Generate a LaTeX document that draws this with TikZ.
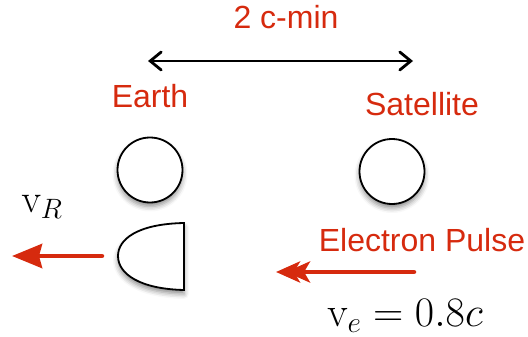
\documentclass[tikz,border=0pt]{standalone}
\usepackage{fix-cm}
\usepackage[no-math]{fontspec}
\setmainfont{Liberation Sans}
\usetikzlibrary{arrows.meta,shadows.blur}
\definecolor{ared}{HTML}{D62A0E}
\tikzset{
  lbl/.style={text=ared,font=\fontsize{32}{36}\selectfont,inner sep=0pt,anchor=base},
  mathlbl/.style={font=\fontsize{40}{44}\selectfont,inner sep=0pt,anchor=base},
  body/.style={draw=black,line width=1.8pt,fill=white,
    blur shadow={shadow xshift=0pt,shadow yshift=-4pt,shadow blur radius=5pt,shadow opacity=45}},
  redarrow/.style={draw=ared,line width=4.5pt,line cap=round},
}
\begin{document}
\begin{tikzpicture}[x=1pt,y=-1pt]
\path[use as bounding box] (0,0) rectangle (528,337);
% labels
\node[lbl] (dist) at (286,29) {2 c-min};
\node[lbl] (earthlbl) at (150,107) {Earth};
\node[lbl] (satlbl) at (422,115) {Satellite};
\node[lbl] (pulselbl) at (422,251) {Electron Pulse};
\node[mathlbl] (vR) at (42,212) {$\mathrm{v}_R$};
\node[mathlbl,font=\fontsize{42}{46}\selectfont] (ve) at (405,326) {$\mathrm{v}_e=0.8c$};
% distance arrow
\coordinate (dl) at (148,61);
\coordinate (dr) at (413,61);
\draw[line width=2.8pt,{Straight Barb[length=11pt,width=18pt,line cap=round]}-{Straight Barb[length=11pt,width=18pt,line cap=round]}] (dl) -- (dr);
% bodies
\node[body,circle,minimum size=65pt,inner sep=0pt] (earth) at (150,170) {};
\node[body,circle,minimum size=65pt,inner sep=0pt] (sat) at (392,171.5) {};
\draw[body] (184,223) .. controls (136,224) and (118,240) .. (118,256)
  .. controls (118,274) and (140,289) .. (184,290) -- cycle;
\coordinate (shield) at (151,256);
% recoil arrow
\coordinate (rs) at (102,256);
\coordinate (re) at (12,256);
\draw[redarrow,-{Stealth[length=30pt,width=24pt,inset=3pt,fill=ared]}] (rs) -- (re);
% electron pulse arrow
\coordinate (ps) at (414,272);
\coordinate (pe) at (276,272);
\draw[redarrow,-{Stealth[length=24pt,width=21pt,inset=6pt,fill=ared,sep=-14pt]Stealth[length=24pt,width=21pt,inset=6pt,fill=ared]}] (ps) -- (pe);
\end{tikzpicture}
\end{document}
